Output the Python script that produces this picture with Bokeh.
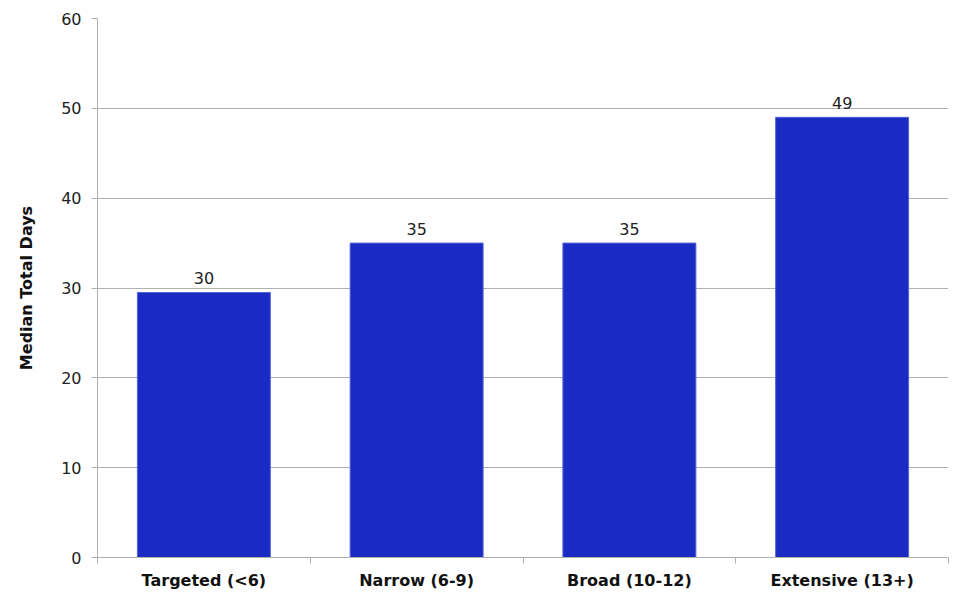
from bokeh.plotting import figure
from bokeh.models import Range1d, FixedTicker, ColumnDataSource
from bokeh.embed import file_html
from bokeh.resources import INLINE
from bokeh.core.properties import value

categories = ["Targeted (<6)", "Narrow (6-9)", "Broad (10-12)", "Extensive (13+)"]
values = [29.5, 35.0, 35.0, 49.0]
value_labels = ["30", "35", "35", "49"]
y_ticks = [0, 10, 20, 30, 40, 50, 60]

FONT = "DejaVu Sans"
centers = [i + 0.5 for i in range(len(categories))]
bounds = [float(i) for i in range(len(categories) + 1)]

p = figure(width=950, height=594, output_backend="svg", toolbar_location=None,
           x_range=Range1d(0, len(categories)), y_range=Range1d(0, 60),
           min_border_left=97, min_border_top=18, min_border_right=2, min_border_bottom=37)
p.outline_line_color = None
p.background_fill_color = "white"

src = ColumnDataSource(dict(x=centers, top=values, lab=value_labels))
p.vbar(x="x", top="top", width=0.625, bottom=0, source=src,
       fill_color="#1a2bc3", line_color="#5563d6", line_width=1)
p.text(x="x", y="top", text="lab", source=src, text_align="center", text_baseline="bottom",
       y_offset=-8, text_font=value(FONT), text_font_size="16px", text_color="#222222")

# x axis
xa = p.xaxis[0]
xa.ticker = FixedTicker(ticks=centers, minor_ticks=bounds)
xa.major_label_overrides = {c: lab for c, lab in zip(centers, categories)}
xa.major_tick_line_color = None
xa.minor_tick_line_color = "#b0b0b0"
xa.minor_tick_out = 6
xa.minor_tick_in = 0
xa.axis_line_color = "#b0b0b0"
xa.major_label_text_font = FONT
xa.major_label_text_font_style = "bold"
xa.major_label_text_font_size = "16px"
xa.major_label_text_color = "#111111"
xa.major_label_standoff = 7

# y axis
ya = p.yaxis[0]
ya.ticker = FixedTicker(ticks=y_ticks)
ya.minor_tick_line_color = None
ya.major_tick_line_color = "#b0b0b0"
ya.major_tick_out = 6
ya.major_tick_in = 0
ya.axis_line_color = "#b0b0b0"
ya.major_label_text_font = FONT
ya.major_label_text_font_size = "16px"
ya.major_label_text_color = "#222222"
ya.major_label_standoff = 10
ya.axis_label = "Median Total Days"
ya.axis_label_text_font = FONT
ya.axis_label_text_font_style = "bold"
ya.axis_label_text_font_size = "16px"
ya.axis_label_text_color = "#111111"
ya.axis_label_standoff = 22

p.xgrid.grid_line_color = None
p.ygrid.ticker = FixedTicker(ticks=y_ticks)
p.ygrid.grid_line_color = "#b0b0b0"
p.ygrid.grid_line_width = 1

open("out.html", "w").write(file_html(p, INLINE))
